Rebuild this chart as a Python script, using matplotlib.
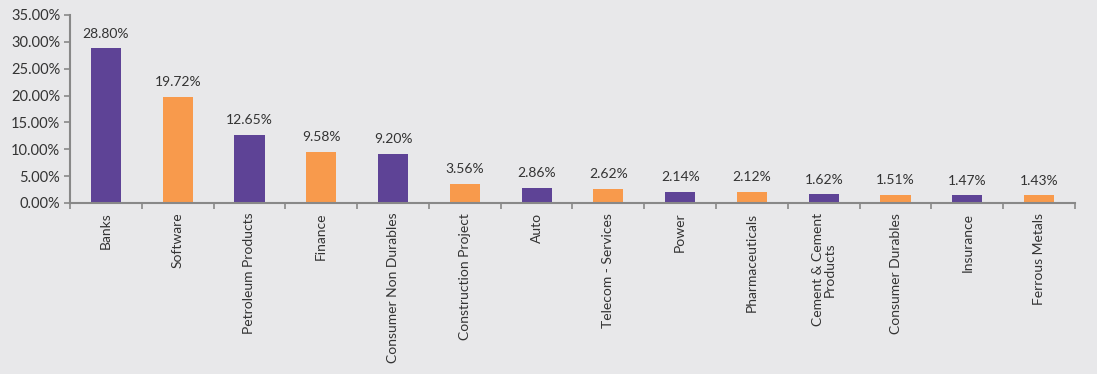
import matplotlib
matplotlib.use("Agg")
import matplotlib.pyplot as plt
import numpy as np
from matplotlib.ticker import FixedLocator, FuncFormatter

categories = ["Banks", "Software", "Petroleum Products", "Finance", "Consumer Non Durables",
              "Construction Project", "Auto", "Telecom - Services", "Power", "Pharmaceuticals",
              "Cement & Cement\nProducts", "Consumer Durables", "Insurance", "Ferrous Metals"]
values = [28.80, 19.72, 12.65, 9.58, 9.20, 3.56, 2.86, 2.62, 2.14, 2.12, 1.62, 1.51, 1.47, 1.43]
yticks = [0, 5, 10, 15, 20, 25, 30, 35]

purple = "#5E4396"
orange = "#F89A4C"
bg = "#E8E8EA"
axc = "#888888"
txt = "#333333"

plt.rcParams['font.family'] = ['Lato', 'DejaVu Sans']

fig = plt.figure(figsize=(10.97, 3.74), dpi=100, facecolor=bg)
ax = fig.add_axes([70/1097, 1-203/374, (1075-70)/1097, (203-15)/374])
ax.set_facecolor(bg)

x = np.arange(len(categories))
colors = [purple if i % 2 == 0 else orange for i in range(len(categories))]
ax.bar(x, values, width=0.42, color=colors, zorder=2)

for xi, v in zip(x, values):
    ax.text(xi, v + 1.6, f"{v:.2f}%", ha="center", va="bottom", fontsize=10, color=txt)

ax.set_xlim(-0.5, len(categories) - 0.5)
ax.set_ylim(0, 35)
ax.set_yticks(yticks)
ax.yaxis.set_major_formatter(FuncFormatter(lambda v, p: f"{v:.2f}%"))
ax.set_xticks(x)
ax.set_xticklabels(categories, rotation=90, fontsize=10, color=txt, ha="center", va="top",
                   multialignment="center", linespacing=1.0)
ax.xaxis.set_minor_locator(FixedLocator(np.arange(-0.5, len(categories), 1.0)))
ax.tick_params(axis="x", which="major", length=0, pad=7)
ax.tick_params(axis="x", which="minor", length=4, color=axc, width=1.2)
ax.tick_params(axis="y", length=4, color=axc, width=1.2, labelsize=10.5, labelcolor=txt, pad=3)

for s in ["top", "right"]:
    ax.spines[s].set_visible(False)
for s in ["left", "bottom"]:
    ax.spines[s].set_color(axc)
    ax.spines[s].set_linewidth(1.5)

fig.savefig("out.png", dpi=100, facecolor=bg)
